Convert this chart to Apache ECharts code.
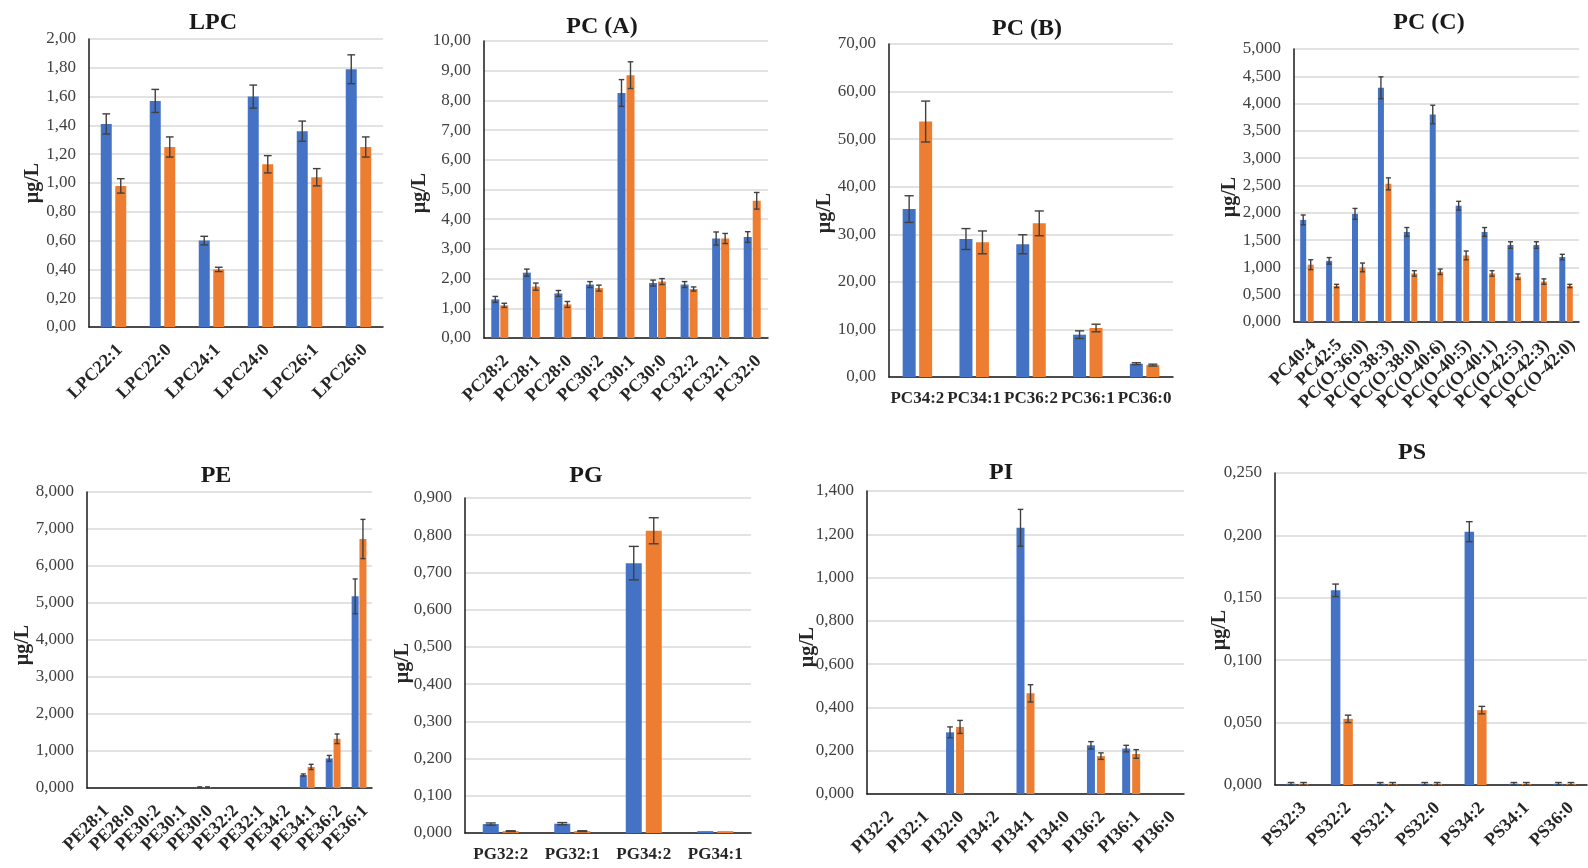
<!DOCTYPE html>
<html>
<head>
<meta charset="utf-8">
<script src="https://cdn.jsdelivr.net/npm/echarts@6/dist/echarts.min.js"></script>
<style>
  html, body { margin: 0; padding: 0; background: #fff; }
  #chart { width: 1588px; height: 868px; }
</style>
</head>
<body>
<div id="chart"></div>
<script>
// ---------------- data ----------------
const lpcCats = ["LPC22:1", "LPC22:0", "LPC24:1", "LPC24:0", "LPC26:1", "LPC26:0"];
const lpcBlue = [1.41, 1.57, 0.60, 1.60, 1.36, 1.79];
const lpcOrange = [0.98, 1.25, 0.40, 1.13, 1.04, 1.25];
const lpcBlueErr = [0.07, 0.08, 0.03, 0.08, 0.07, 0.10];
const lpcOrangeErr = [0.05, 0.07, 0.015, 0.06, 0.06, 0.07];

const pcaCats = ["PC28:2", "PC28:1", "PC28:0", "PC30:2", "PC30:1", "PC30:0", "PC32:2", "PC32:1", "PC32:0"];
const pcaBlue = [1.30, 2.20, 1.50, 1.80, 8.25, 1.85, 1.80, 3.35, 3.40];
const pcaOrange = [1.10, 1.73, 1.13, 1.68, 8.85, 1.90, 1.65, 3.35, 4.62];
const pcaBlueErr = [0.10, 0.12, 0.10, 0.10, 0.45, 0.10, 0.10, 0.22, 0.18];
const pcaOrangeErr = [0.07, 0.12, 0.10, 0.10, 0.45, 0.10, 0.07, 0.17, 0.28];

const pcbCats = ["PC34:2", "PC34:1", "PC36:2", "PC36:1", "PC36:0"];
const pcbBlue = [35.3, 29.0, 27.9, 8.9, 2.8];
const pcbOrange = [53.7, 28.3, 32.3, 10.3, 2.5];
const pcbBlueErr = [2.8, 2.2, 2.0, 0.8, 0.2];
const pcbOrangeErr = [4.3, 2.4, 2.6, 0.8, 0.2];

const pccCats = ["PC40:4", "PC42:5", "PC(O-36:0)", "PC(O-38:3)", "PC(O-38:0)", "PC(O-40:6)",
  "PC(O-40:5)", "PC(O-40:1)", "PC(O-42:5)", "PC(O-42:3)", "PC(O-42:0)"];
const pccBlue = [1.87, 1.12, 1.98, 4.29, 1.65, 3.80, 2.13, 1.65, 1.41, 1.41, 1.19];
const pccOrange = [1.05, 0.66, 1.00, 2.53, 0.89, 0.92, 1.22, 0.89, 0.83, 0.74, 0.66];
const pccBlueErr = [0.09, 0.06, 0.10, 0.20, 0.08, 0.17, 0.08, 0.08, 0.06, 0.06, 0.05];
const pccOrangeErr = [0.09, 0.03, 0.08, 0.11, 0.05, 0.05, 0.08, 0.05, 0.05, 0.05, 0.03];

const peCats = ["PE28:1", "PE28:0", "PE30:2", "PE30:1", "PE30:0", "PE32:2", "PE32:1", "PE34:2", "PE34:1", "PE36:2", "PE36:1"];
const peBlue = [0, 0, 0, 0, 0.02, 0, 0, 0, 0.35, 0.80, 5.18];
const peOrange = [0, 0, 0, 0, 0.02, 0, 0, 0, 0.57, 1.33, 6.73];
const peBlueErr = [0, 0, 0, 0, 0.01, 0, 0, 0, 0.03, 0.08, 0.47];
const peOrangeErr = [0, 0, 0, 0, 0.01, 0, 0, 0, 0.07, 0.13, 0.53];

const pgCats = ["PG32:2", "PG32:1", "PG34:2", "PG34:1"];
const pgBlue = [0.024, 0.025, 0.725, 0.005];
const pgOrange = [0.005, 0.005, 0.812, 0.005];
const pgBlueErr = [0.003, 0.003, 0.045, 0];
const pgOrangeErr = [0.001, 0.001, 0.035, 0];

const piCats = ["PI32:2", "PI32:1", "PI32:0", "PI34:2", "PI34:1", "PI34:0", "PI36:2", "PI36:1", "PI36:0"];
const piBlue = [0, 0, 0.285, 0, 1.23, 0, 0.225, 0.21, 0];
const piOrange = [0, 0, 0.31, 0, 0.465, 0, 0.175, 0.185, 0];
const piBlueErr = [0, 0, 0.025, 0, 0.085, 0, 0.017, 0.015, 0];
const piOrangeErr = [0, 0, 0.03, 0, 0.04, 0, 0.015, 0.02, 0];

const psCats = ["PS32:3", "PS32:2", "PS32:1", "PS32:0", "PS34:2", "PS34:1", "PS36:0"];
const psBlue = [0.001, 0.156, 0.001, 0.001, 0.203, 0.001, 0.001];
const psOrange = [0.001, 0.053, 0.001, 0.001, 0.060, 0.001, 0.001];
const psBlueErr = [0.001, 0.005, 0.001, 0.001, 0.008, 0.001, 0.001];
const psOrangeErr = [0.001, 0.003, 0.001, 0.001, 0.003, 0.001, 0.001];

// axis scales: [max, interval, decimals]
const lpcTicks = [2, 0.2, 2];
const pcaTicks = [10, 1, 2];
const pcbTicks = [70, 10, 2];
const pccTicks = [5, 0.5, 3];
const peTicks = [8, 1, 3];
const pgTicks = [0.9, 0.1, 3];
const piTicks = [1.4, 0.2, 3];
const psTicks = [0.25, 0.05, 3];

// ---------------- layout ----------------
const 蓝 = "#4472C4";
const 橙 = "#ED7D31";
const 误差色 = "#404040";
const 字体 = '"Liberation Serif", "Times New Roman", serif';

// 每个面板: 标题, 数据, 网格位置, 柱宽/间距, 标签旋转
const panels = [
  { title: "LPC", cats: lpcCats, b: lpcBlue, o: lpcOrange, be: lpcBlueErr, oe: lpcOrangeErr, ticks: lpcTicks,
    grid: [89, 39, 294, 288], bw: 11, gap: 3.5, rot: 45, tx: 213, ty: 23, lx: 33, ly: 183 },
  { title: "PC (A)", cats: pcaCats, b: pcaBlue, o: pcaOrange, be: pcaBlueErr, oe: pcaOrangeErr, ticks: pcaTicks,
    grid: [484, 41, 284, 297], bw: 8, gap: 1, rot: 45, tx: 602, ty: 27, lx: 420, ly: 193 },
  { title: "PC (B)", cats: pcbCats, b: pcbBlue, o: pcbOrange, be: pcbBlueErr, oe: pcbOrangeErr, ticks: pcbTicks,
    grid: [889, 44, 284, 333], bw: 13, gap: 3.5, rot: 0, tx: 1027, ty: 29, lx: 825, ly: 213 },
  { title: "PC (C)", cats: pccCats, b: pccBlue, o: pccOrange, be: pccBlueErr, oe: pccOrangeErr, ticks: pccTicks,
    grid: [1294, 49, 285, 273], bw: 6, gap: 1.5, rot: 45, tx: 1429, ty: 23, lx: 1230, ly: 197 },
  { title: "PE", cats: peCats, b: peBlue, o: peOrange, be: peBlueErr, oe: peOrangeErr, ticks: peTicks,
    grid: [87, 492, 285, 296], bw: 7, gap: 0.8, rot: 45, tx: 216, ty: 476, lx: 23, ly: 645 },
  { title: "PG", cats: pgCats, b: pgBlue, o: pgOrange, be: pgBlueErr, oe: pgOrangeErr, ticks: pgTicks,
    grid: [465, 498, 286, 335], bw: 16, gap: 4, rot: 0, tx: 586, ty: 476, lx: 403, ly: 663 },
  { title: "PI", cats: piCats, b: piBlue, o: piOrange, be: piBlueErr, oe: piOrangeErr, ticks: piTicks,
    grid: [867, 491, 317, 303], bw: 8, gap: 2, rot: 45, tx: 1001, ty: 473, lx: 808, ly: 647 },
  { title: "PS", cats: psCats, b: psBlue, o: psOrange, be: psBlueErr, oe: psOrangeErr, ticks: psTicks,
    grid: [1275, 473, 312, 312], bw: 9.5, gap: 3, rot: 45, tx: 1412, ty: 453, lx: 1220, ly: 630 },
];

function 误差渲染(offset, cap) {
  return function (params, api) {
    const i = api.value(0), v = api.value(1), e = api.value(2);
    if (!e) return null;
    const hi = api.coord([i, v + e]);
    const lo = api.coord([i, Math.max(v - e, 0)]);
    const x = hi[0] + offset;
    const st = { stroke: 误差色, lineWidth: 1.4 };
    return {
      type: "group",
      children: [
        { type: "line", shape: { x1: x, y1: hi[1], x2: x, y2: lo[1] }, style: st },
        { type: "line", shape: { x1: x - cap / 2, y1: hi[1], x2: x + cap / 2, y2: hi[1] }, style: st },
        { type: "line", shape: { x1: x - cap / 2, y1: lo[1], x2: x + cap / 2, y2: lo[1] }, style: st },
      ],
    };
  };
}

const grids = [], xAxes = [], yAxes = [], series = [], graphics = [];

panels.forEach((p, k) => {
  grids.push({ left: p.grid[0], top: p.grid[1], width: p.grid[2], height: p.grid[3], containLabel: false });
  const 标签 = {
    interval: 0, rotate: p.rot, margin: p.rot ? 14 : 13,
    fontFamily: 字体, fontWeight: "bold", fontSize: p.rot ? 18 : 17, color: "#262626",
  };
  if (p.rot) 标签.verticalAlign = "top";
  xAxes.push({
    type: "category", gridIndex: k, data: p.cats,
    axisLine: { lineStyle: { color: "#1a1a1a", width: 1.5 } },
    axisTick: { show: false },
    axisLabel: 标签,
  });
  const [max, step, dec] = p.ticks;
  yAxes.push({
    type: "value", gridIndex: k, min: 0, max: max, interval: step,
    axisLine: { show: true, lineStyle: { color: "#1a1a1a", width: 1.5 } },
    axisTick: { show: false },
    splitLine: { lineStyle: { color: "#d9d9d9", width: 1.5 } },
    axisLabel: {
      margin: 13, fontFamily: 字体, fontSize: 17, color: "#404040",
      formatter: (v) => v.toFixed(dec).replace(".", ","),
    },
  });
  const gapPct = (p.gap / p.bw * 100).toFixed(1) + "%";
  series.push(
    { type: "bar", xAxisIndex: k, yAxisIndex: k, data: p.b, barWidth: p.bw, barGap: gapPct,
      itemStyle: { color: 蓝 }, silent: true },
    { type: "bar", xAxisIndex: k, yAxisIndex: k, data: p.o, barWidth: p.bw, barGap: gapPct,
      itemStyle: { color: 橙 }, silent: true }
  );
  const off = (p.bw + p.gap) / 2;
  const cap = Math.max(5, Math.min(10, p.bw * 0.7));
  series.push(
    { type: "custom", xAxisIndex: k, yAxisIndex: k, renderItem: 误差渲染(-off, cap), z: 5, silent: true,
      data: p.b.map((v, i) => [i, v, p.be[i]]) },
    { type: "custom", xAxisIndex: k, yAxisIndex: k, renderItem: 误差渲染(off, cap), z: 5, silent: true,
      data: p.o.map((v, i) => [i, v, p.oe[i]]) }
  );
  graphics.push(
    { type: "text", x: p.tx, y: p.ty,
      style: { text: p.title, font: "bold 24px " + 字体, fill: "#1a1a1a", align: "center", verticalAlign: "middle" } },
    { type: "text", x: p.lx, y: p.ly, rotation: Math.PI / 2,
      style: { text: "µg/L", font: "bold 20px " + 字体, fill: "#262626", align: "center", verticalAlign: "middle" } }
  );
});

const myChart = echarts.init(document.getElementById("chart"), null, { renderer: "canvas" });
myChart.setOption({
  backgroundColor: "#ffffff",
  animation: false,
  grid: grids,
  xAxis: xAxes,
  yAxis: yAxes,
  series: series,
  graphic: graphics,
});
</script>
</body>
</html>
